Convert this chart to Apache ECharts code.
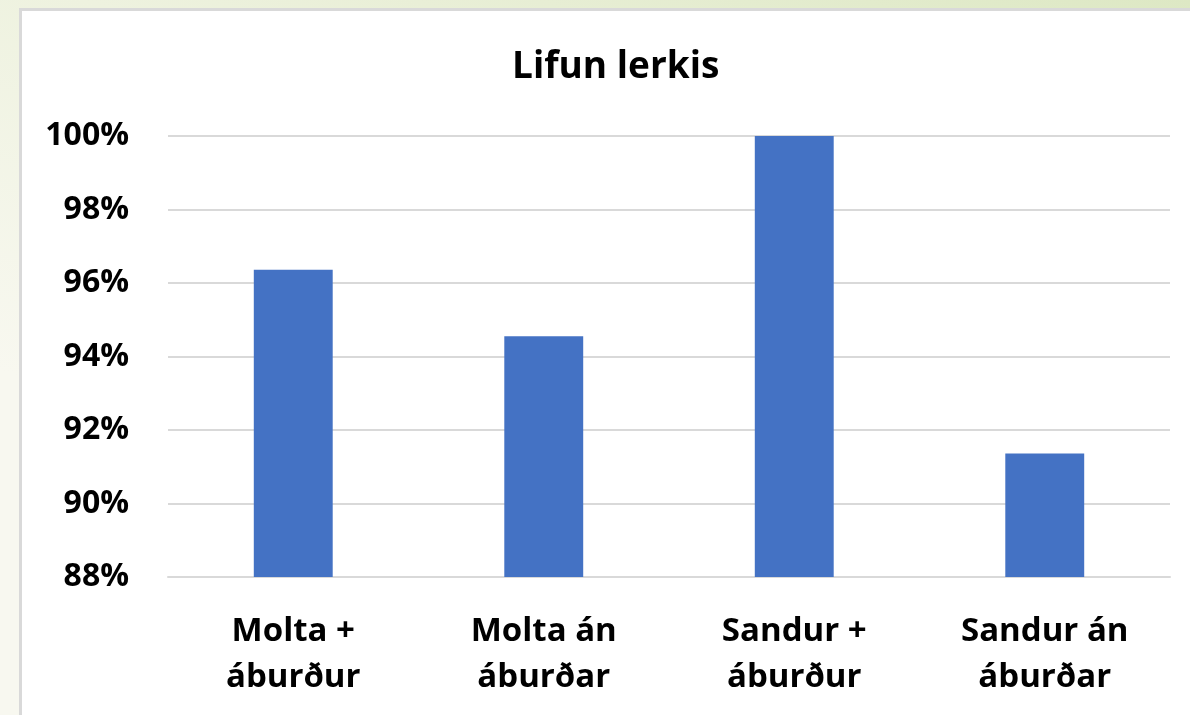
<!DOCTYPE html>
<html>
<head>
<meta charset="utf-8">
<script src="https://cdn.jsdelivr.net/npm/echarts@6/dist/echarts.min.js"></script>
<style>
  html, body {
    margin: 0;
    width: 1190px;
    height: 715px;
    overflow: hidden;
    background: linear-gradient(200deg, #dde8c4 0%, #eef2df 35%, #f8f8f0 70%);
  }
  .frame {
    position: absolute;
    left: 19px;
    top: 8px;
    width: 1200px;
    height: 720px;
    background: #fff;
    border: 3px solid #d9d9d9;
  }
  #chart {
    position: absolute;
    left: 0;
    top: 0;
    width: 1190px;
    height: 715px;
  }
</style>
</head>
<body>
<div class="frame"></div>
<div id="chart"></div>
<script>
// categories and values (percent)
var categories = ['Molta +\náburður', 'Molta án\náburðar', 'Sandur +\náburður', 'Sandur án\náburðar'];
var survival = [96.36, 94.55, 100, 91.36];
var yMin = 88, yMax = 100, yStep = 2;

var font = '"Open Sans", Lato, sans-serif';

var myChart = echarts.init(document.getElementById('chart'));
var option = {
    animation: false,
    title: {
        text: 'Lifun lerkis',
        left: 507,
        top: 44,
        textStyle: {
            fontFamily: font,
            fontSize: 37,
            fontWeight: 'bold',
            color: '#000'
        }
    },
    grid: {
        left: 168,
        right: 20,
        top: 136,
        bottom: 138,
        containLabel: false
    },
    xAxis: {
        type: 'category',
        data: categories,
        axisLine: { show: true, lineStyle: { color: '#d9d9d9', width: 2 } },
        axisTick: { show: false },
        axisLabel: {
            interval: 0,
            margin: 32,
            color: '#000',
            fontFamily: font,
            fontSize: 33,
            fontWeight: 'bold',
            lineHeight: 46
        }
    },
    yAxis: {
        type: 'value',
        min: yMin,
        max: yMax,
        interval: yStep,
        axisLine: { show: false },
        axisTick: { show: false },
        axisLabel: {
            margin: 39,
            color: '#000',
            fontFamily: font,
            fontSize: 32,
            fontWeight: 'bold',
            formatter: '{value}%'
        },
        splitLine: { lineStyle: { color: '#d9d9d9', width: 2 } }
    },
    series: [{
        type: 'bar',
        data: survival,
        barWidth: '31.5%',
        itemStyle: { color: '#4472c4' }
    }]
};
myChart.setOption(option);
</script>
</body>
</html>
